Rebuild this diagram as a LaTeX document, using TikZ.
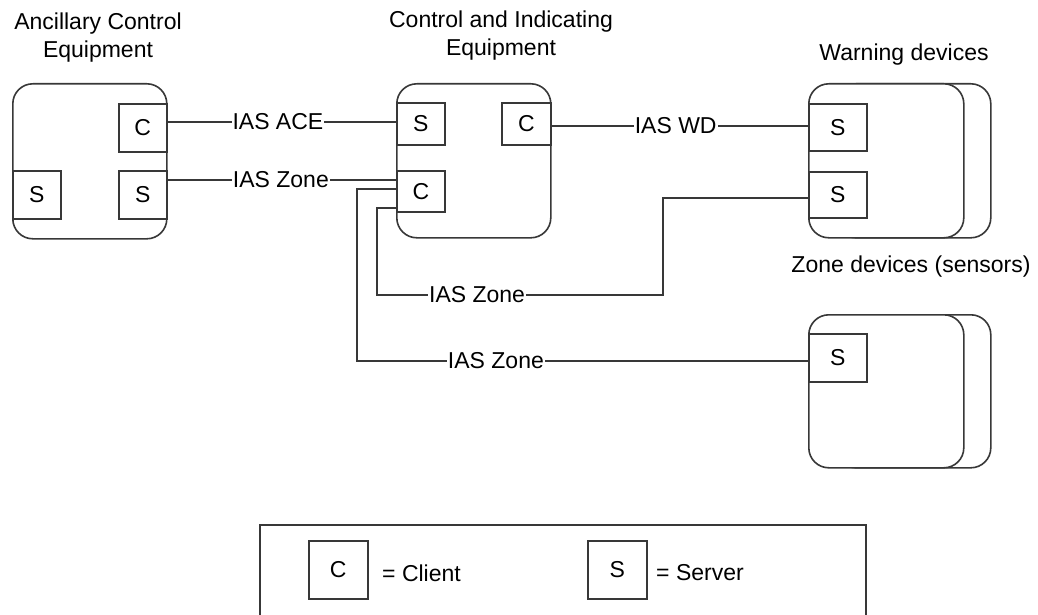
\documentclass[tikz,border=0pt]{standalone}
\usepackage{fontspec}
\setmainfont{Liberation Sans}
\begin{document}
\begin{tikzpicture}[x=1pt,y=-1pt,
  ln/.style={draw=black!78, line width=1.6pt},
  dev/.style={ln, fill=white, rounded corners=20pt, inner sep=0pt, anchor=north west},
  port/.style={ln, fill=white, rectangle, inner sep=0pt, anchor=north west, font=\fontsize{23}{28}\selectfont},
  lbl/.style={fill=white, inner sep=1pt, font=\fontsize{23}{28}\selectfont},
  ttl/.style={align=center, inner sep=0pt, font=\fontsize{23}{28}\selectfont}]
\useasboundingbox (0,0) rectangle (1038,615);

% titles
\node[ttl] (tace) at (98,38) {Ancillary Control\\Equipment};
\node[ttl] (tcie) at (501,36) {Control and Indicating\\Equipment};
\node[ttl] (twd) at (904,55) {Warning devices};
\node[ttl] (tzd) at (911,267) {Zone devices (sensors)};

% device boxes
\node[dev, minimum width=154pt, minimum height=155pt] (ace) at (12,83) {};
\node[dev, minimum width=154pt, minimum height=154pt] (cie) at (396,83) {};
\node[dev, minimum width=155pt, minimum height=154pt] (wdback) at (835,83) {};
\node[dev, minimum width=155pt, minimum height=154pt] (wd) at (808,83) {};
\node[dev, minimum width=155pt, minimum height=153pt] (zdback) at (835,314) {};
\node[dev, minimum width=155pt, minimum height=153pt] (zd) at (808,314) {};

% ports
\node[port, minimum width=48pt, minimum height=48pt] (aceC) at (118,103) {C};
\node[port, minimum width=48pt, minimum height=48pt] (aceS2) at (118,170) {S};
\node[port, minimum width=48pt, minimum height=48pt] (aceS1) at (12,170) {S};
\node[port, minimum width=48pt, minimum height=42pt] (cieS) at (396,102) {S};
\node[port, minimum width=49pt, minimum height=42pt] (cieC2) at (501,102) {C};
\node[port, minimum width=48pt, minimum height=41pt] (cieC) at (396,170) {C};
\node[port, minimum width=58pt, minimum height=47pt] (wS1) at (808,103) {S};
\node[port, minimum width=58pt, minimum height=46pt] (wS2) at (808,171) {S};
\node[port, minimum width=58pt, minimum height=48pt] (zS) at (808,333) {S};

% bend points
\coordinate (yACE) at (0,122);
\coordinate (yZ1) at (0,180);
\coordinate (yWD) at (0,126);
\coordinate (bA1) at (357,189);
\coordinate (bA2) at (357,361);
\coordinate (bB1) at (377,208);
\coordinate (bB2) at (377,295);
\coordinate (bB3) at (663,295);
\coordinate (bB4) at (663,198);

% connectors
\draw[ln] (aceC.east |- yACE) -- node[lbl, pos=0.483] (lace) {IAS ACE} (cieS.west |- yACE);
\draw[ln] (aceS2.east |- yZ1) -- node[lbl, pos=0.496] (lz1) {IAS Zone} (cieC.west |- yZ1);
\draw[ln] (cieC2.east |- yWD) -- node[lbl, pos=0.484] (lwd) {IAS WD} (wS1.west |- yWD);
\draw[ln] (cieC.west |- bA1) -- (bA1) -- (bA2) -- node[lbl, pos=0.308] (lz3) {IAS Zone} (zS.west |- bA2);
\draw[ln] (cieC.west |- bB1) -- (bB1) -- (bB2) -- node[lbl, pos=0.35] (lz2) {IAS Zone} (bB3) -- (bB4) -- (wS2.west |- bB4);

% legend
\draw[ln] (260,616) -- (260,525) -- (866,525) -- (866,616);
\node[port, minimum width=59pt, minimum height=58pt] (legC) at (308,540) {C};
\node[port, minimum width=59pt, minimum height=58pt] (legS) at (587,540) {S};
\node[lbl, anchor=west] (legCt) at (381,573) {= Client};
\node[lbl, anchor=west] (legSt) at (655,573) {= Server};
\end{tikzpicture}
\end{document}
